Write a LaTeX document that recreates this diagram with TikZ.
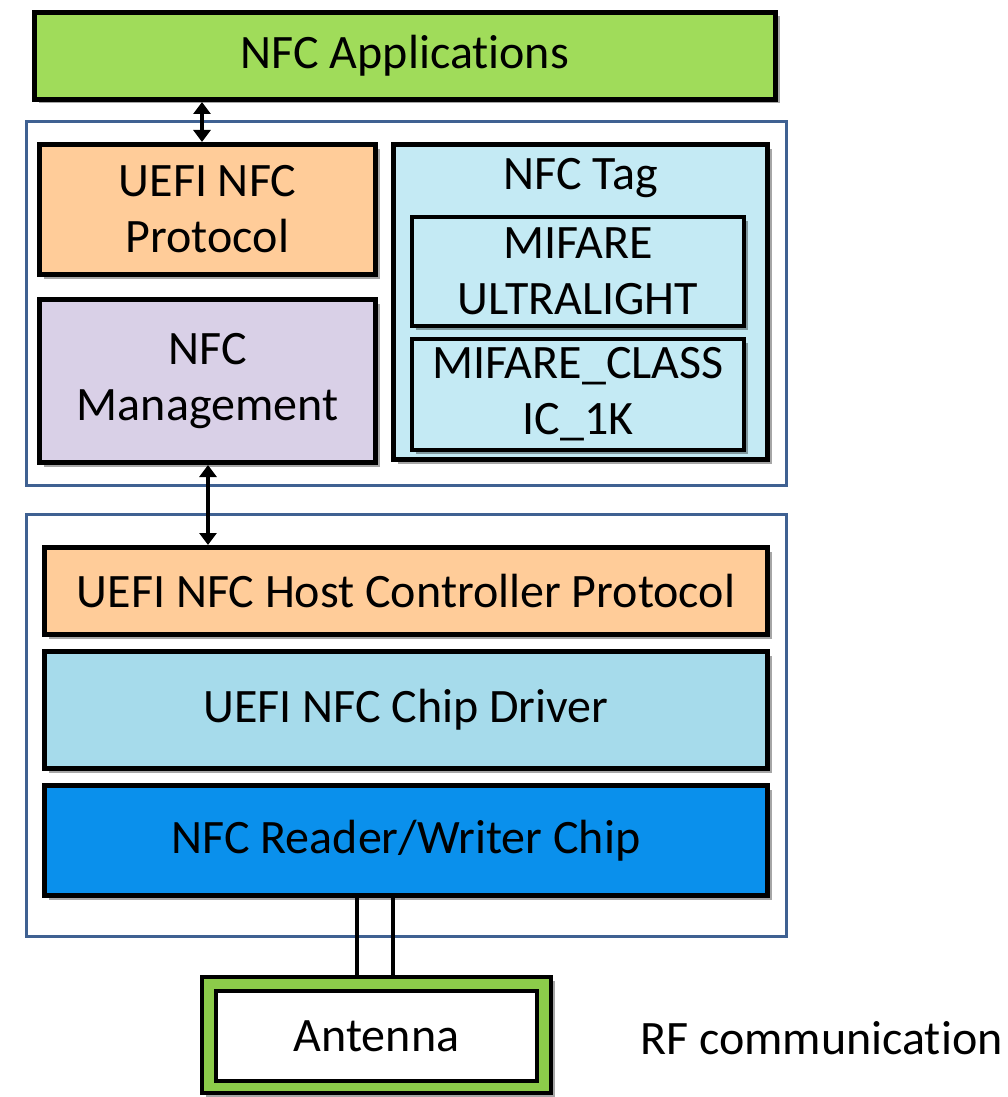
\documentclass[tikz,border=0pt]{standalone}
\usepackage{fontspec}
\setmainfont[Ligatures=NoCommon]{Carlito}
\usetikzlibrary{shadows,arrows.meta}
\definecolor{appgreen}{HTML}{A0DC5A}
\definecolor{peach}{HTML}{FFCC99}
\definecolor{lavender}{HTML}{D9D0E7}
\definecolor{tagblue}{HTML}{C4EAF4}
\definecolor{drvblue}{HTML}{A6DBEB}
\definecolor{chipblue}{HTML}{0A90EC}
\definecolor{framecol}{HTML}{3F6192}
\definecolor{antgreen}{HTML}{8CCB4A}
\tikzset{
  layer/.style={draw=black, line width=5pt, inner sep=0pt, align=center,
    font=\fontsize{48}{56}\selectfont,
    drop shadow={shadow xshift=4pt, shadow yshift=-4pt, opacity=0.35, fill=black}},
  sublayer/.style={layer, line width=4pt},
  frame/.style={draw=framecol, line width=3.5pt, inner sep=0pt},
  label/.style={font=\fontsize{48}{56}\selectfont, inner sep=0pt},
  link/.style={line width=4.5pt, {Triangle[width=17pt,length=12pt]}-{Triangle[width=17pt,length=12pt]}},
  wire/.style={line width=4pt}
}
\begin{document}
\begin{tikzpicture}[x=1pt,y=-1pt]
\useasboundingbox[fill=white] (0,0) rectangle (1008,1097);
% frames
\node[frame, minimum width=760pt, minimum height=364pt] (upper) at (406.5,303.5) {};
\node[frame, minimum width=760pt, minimum height=422pt] (lower) at (406.5,725.5) {};
% boxes
\node[layer, fill=appgreen, minimum width=741pt, minimum height=87pt] (app) at (405,56) {NFC Applications};
\node[layer, fill=peach, minimum width=336pt, minimum height=130pt] (proto) at (207.5,209.5) {UEFI NFC\\Protocol};
\node[layer, fill=lavender, minimum width=336pt, minimum height=163pt] (mgmt) at (207.5,381) {NFC\\Management};
\node[layer, fill=tagblue, minimum width=374pt, minimum height=315pt] (tag) at (580.5,302) {};
\node[label] (tagtitle) at (580.5,178) {NFC Tag};
\node[sublayer, fill=tagblue, minimum width=332pt, minimum height=109pt] (ul) at (578,271.5) {MIFARE\\ULTRALIGHT};
\node[sublayer, fill=tagblue, minimum width=332pt, minimum height=111pt] (cl) at (578,394.5) {MIFARE\_CLASS\\IC\_1K};
\node[layer, fill=peach, minimum width=723pt, minimum height=87pt] (hcp) at (406,591) {UEFI NFC Host Controller Protocol};
\node[layer, fill=drvblue, minimum width=723pt, minimum height=117pt] (drv) at (406,710) {UEFI NFC Chip Driver};
\node[layer, fill=chipblue, minimum width=723pt, minimum height=110pt] (chip) at (406,840.5) {NFC Reader/Writer Chip};
% antenna
\node[layer, line width=4pt, fill=antgreen, minimum width=349pt, minimum height=116pt] (antout) at (376.5,1035) {};
\node[draw=black, line width=4pt, fill=white, minimum width=321pt, minimum height=90pt, label, inner sep=0pt] (ant) at (376.5,1036) {Antenna};
\node[label, anchor=west] (rf) at (640,1038) {RF communication};
% connectors
\coordinate (a1) at (202,0);
\coordinate (a2) at (208,0);
\coordinate (w1) at (357,0);
\coordinate (w2) at (393,0);
\draw[link] (app.south -| a1) -- (proto.north -| a1);
\draw[link] (mgmt.south -| a2) -- (hcp.north -| a2);
\draw[wire] (chip.south -| w1) -- (antout.north -| w1);
\draw[wire] (chip.south -| w2) -- (antout.north -| w2);
\end{tikzpicture}
\end{document}
